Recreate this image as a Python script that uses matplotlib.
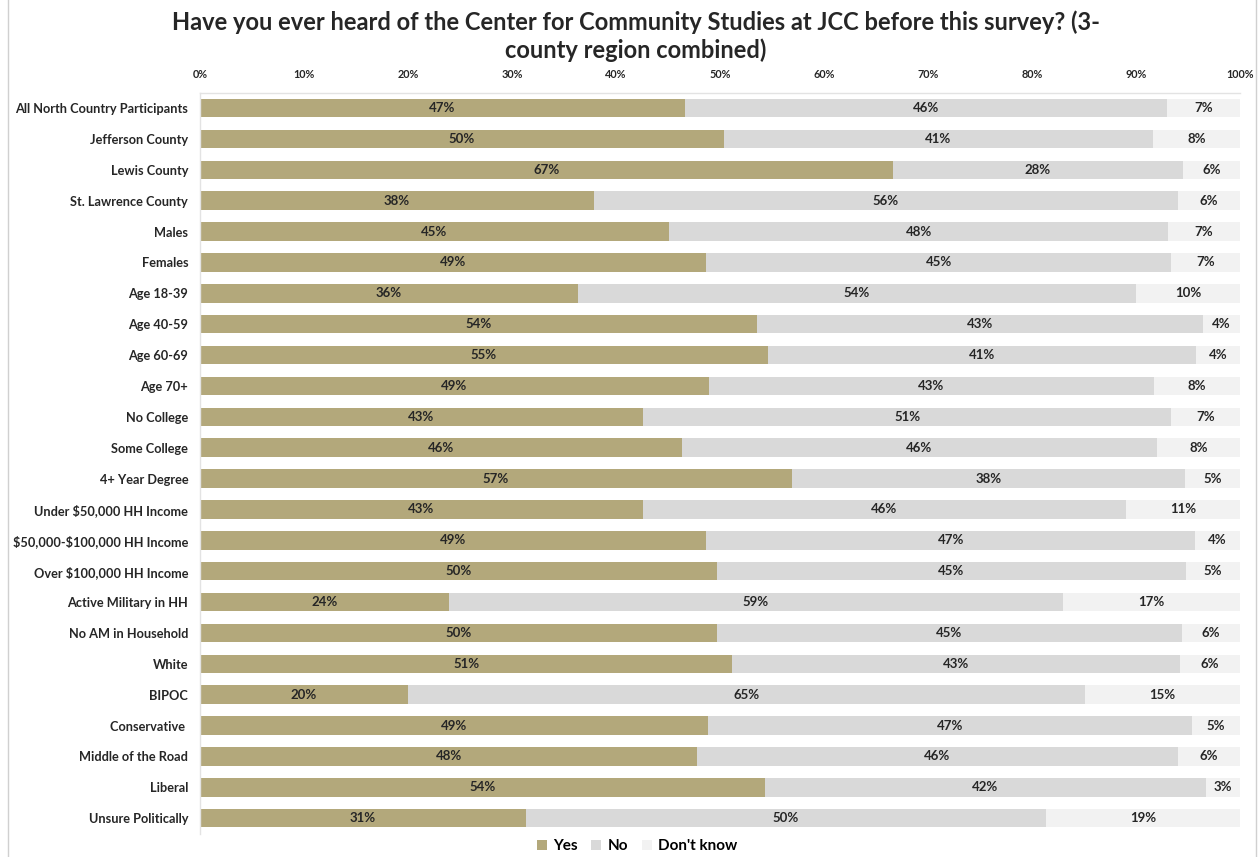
import matplotlib
matplotlib.use("Agg")
import matplotlib.pyplot as plt
from matplotlib.lines import Line2D
from matplotlib.patches import Patch

plt.rcParams['font.family'] = ['Lato', 'DejaVu Sans']
plt.rcParams['text.parse_math'] = False

categories = [
    "All North Country Participants", "Jefferson County", "Lewis County",
    "St. Lawrence County", "Males", "Females", "Age 18-39", "Age 40-59",
    "Age 60-69", "Age 70+", "No College", "Some College", "4+ Year Degree",
    "Under $50,000 HH Income", "$50,000-$100,000 HH Income",
    "Over $100,000 HH Income", "Active Military in HH", "No AM in Household",
    "White", "BIPOC", "Conservative ", "Middle of the Road", "Liberal",
    "Unsure Politically",
]
yes = [46.6, 50.4, 66.6, 37.9, 45.1, 48.7, 36.3, 53.6, 54.6, 48.9, 42.6, 46.3,
       56.9, 42.6, 48.7, 49.7, 23.9, 49.7, 51.2, 20.0, 48.8, 47.8, 54.3, 31.3]
no = [46.4, 41.2, 27.9, 56.1, 48.0, 44.7, 53.7, 42.8, 41.2, 42.8, 50.8, 45.7,
      37.8, 46.4, 47.0, 45.1, 59.1, 44.7, 43.0, 65.1, 46.6, 46.2, 42.4, 50.0]
dont_know = [7.0, 8.4, 5.6, 6.0, 6.9, 6.6, 10.0, 3.6, 4.2, 8.3, 6.6, 8.0,
             5.3, 11.0, 4.3, 5.2, 17.0, 5.6, 5.8, 14.9, 4.6, 6.0, 3.3, 18.7]
series_names = ["Yes", "No", "Don't know"]
colors = ["#b3a87b", "#d9d9d9", "#f2f2f2"]
ticks = [0, 10, 20, 30, 40, 50, 60, 70, 80, 90, 100]

fig = plt.figure(figsize=(12.58, 8.57), dpi=100)
ax = fig.add_axes([200/1258, 1 - 833.6/857, 1040/1258, (833.6 - 92.6)/857])

y = list(range(len(categories)))
left = [0.0] * len(categories)
for vals, name, col in zip([yes, no, dont_know], series_names, colors):
    ax.barh(y, vals, left=left, height=0.6, color=col, label=name)
    for yi, l, v in zip(y, left, vals):
        ax.text(l + v / 2, yi, f"{v:.0f}%", ha="center", va="center",
                fontsize=9.5, fontweight="bold", color="#262626")
    left = [a + b for a, b in zip(left, vals)]

ax.set_xlim(0, 100)
ax.set_ylim(len(categories) - 0.5, -0.5)
ax.set_yticks(y)
ax.set_yticklabels(categories, fontsize=9.2, fontweight="bold", color="#262626")
ax.set_xticks(ticks)
ax.set_xticklabels([f"{t}%" for t in ticks], fontsize=7.8, fontweight="bold", color="#262626")
ax.xaxis.tick_top()
ax.tick_params(axis="x", length=0, pad=9)
ax.tick_params(axis="y", length=0, pad=8.5)
for s in ["right", "bottom"]:
    ax.spines[s].set_visible(False)
for s in ["top", "left"]:
    ax.spines[s].set_color("#e3e3e3")
    ax.spines[s].set_linewidth(1)

title_lines = ["Have you ever heard of the Center for Community Studies at JCC before this survey? (3-",
               "county region combined)"]
for yy, line in zip([22, 50], title_lines):
    fig.text(636/1258, 1 - yy/857, line, ha="center", va="center",
             fontsize=17, fontweight="bold", color="#262626")

handles = [Patch(facecolor=c, edgecolor="none") for c in colors]
fig.legend(handles, series_names, loc="center", bbox_to_anchor=(637/1258, 1 - 846/857),
           ncol=3, frameon=False, handlelength=0.65, handleheight=0.65,
           handletextpad=0.4, columnspacing=0.9,
           prop={"weight": "bold", "size": 11})

for xp in [8/1258, 1256/1258]:
    fig.add_artist(Line2D([xp, xp], [0, 1], color="#d0d0d0", lw=1))

fig.savefig("out.png", dpi=100)
